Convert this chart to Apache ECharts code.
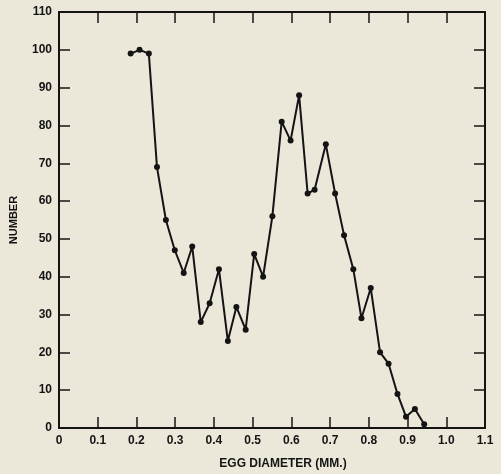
<!DOCTYPE html>
<html>
<head>
<meta charset="utf-8">
<script src="https://cdn.jsdelivr.net/npm/echarts@6/dist/echarts.min.js"></script>
<style>
html,body{margin:0;padding:0;background:#ebe8da;}
#c{width:501px;height:474px;}
</style>
</head>
<body>
<div id="c"></div>
<script>
// Egg diameter (mm) for each point
const diameters = [0.185, 0.208, 0.232, 0.253, 0.276, 0.299, 0.322, 0.344, 0.366, 0.389,
  0.413, 0.436, 0.458, 0.482, 0.504, 0.527, 0.551, 0.575, 0.598, 0.620,
  0.642, 0.660, 0.689, 0.713, 0.736, 0.760, 0.781, 0.805, 0.829, 0.851,
  0.874, 0.896, 0.919, 0.943];
// Number of eggs
const counts = [99, 100, 99, 69, 55, 47, 41, 48, 28, 33,
  42, 23, 32, 26, 46, 40, 56, 81, 76, 88,
  62, 63, 75, 62, 51, 42, 29, 37, 20, 17,
  9, 3, 5, 1];
const xTickLabels = ['0','0.1','0.2','0.3','0.4','0.5','0.6','0.7','0.8','0.9','1.0','1.1'];
const yTickLabels = ['0','10','20','30','40','50','60','70','80','90','100','110'];

const font = 'Liberation Sans';
const ink = '#141414';
const chart = echarts.init(document.getElementById('c'), null, {renderer: 'canvas'});
const pts = diameters.map((d, i) => [d, counts[i]]);

const axisCommon = {
  axisLine: {show: true, onZero: false, lineStyle: {color: ink, width: 2}},
  axisTick: {show: true, inside: true, length: 11, lineStyle: {color: ink, width: 1.5}},
  splitLine: {show: false}
};

chart.setOption({
  backgroundColor: '#ebe8da',
  animation: false,
  grid: {left: 59, right: 16, top: 12, bottom: 46, containLabel: false, outerBoundsMode: 'none'},
  xAxis: [
    Object.assign({
      type: 'value', min: 0, max: 1.1, interval: 0.1, position: 'bottom',
      name: 'EGG DIAMETER (MM.)', nameLocation: 'middle', nameGap: 30,
      nameTextStyle: {color: ink, fontFamily: font, fontWeight: 'bold', fontSize: 12, padding: [0, 0, 0, 22]},
      axisLabel: {color: ink, fontFamily: font, fontWeight: 'bold', fontSize: 12, margin: 7,
        formatter: v => xTickLabels[Math.round(v * 10)]}
    }, axisCommon),
    Object.assign({
      type: 'value', min: 0, max: 1.1, interval: 0.1, position: 'top',
      axisLabel: {show: false}
    }, axisCommon)
  ],
  yAxis: [
    Object.assign({
      type: 'value', min: 0, max: 110, interval: 10, position: 'left',
      name: 'NUMBER', nameLocation: 'middle', nameGap: 40, nameRotate: 90,
      nameTextStyle: {color: ink, fontFamily: font, fontWeight: 'bold', fontSize: 11},
      axisLabel: {color: ink, fontFamily: font, fontWeight: 'bold', fontSize: 12, margin: 7,
        formatter: v => yTickLabels[Math.round(v / 10)]}
    }, axisCommon),
    Object.assign({
      type: 'value', min: 0, max: 110, interval: 10, position: 'right',
      axisLabel: {show: false}
    }, axisCommon)
  ],
  series: [{
    type: 'line',
    data: pts,
    xAxisIndex: 0, yAxisIndex: 0,
    symbol: 'circle', symbolSize: 6,
    itemStyle: {color: ink},
    lineStyle: {color: ink, width: 2}
  }]
});
</script>
</body>
</html>
